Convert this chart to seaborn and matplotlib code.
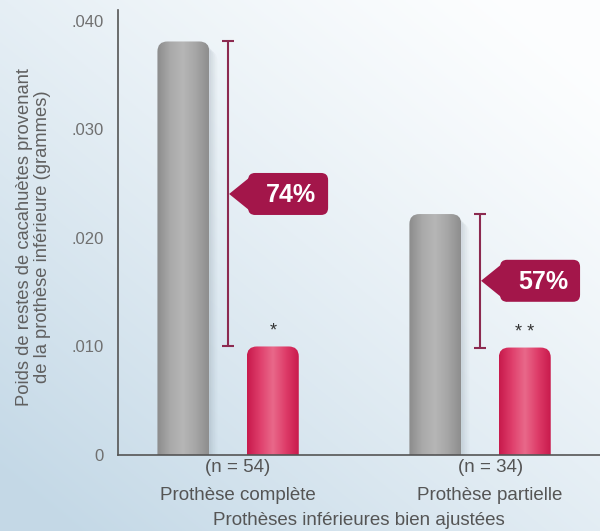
import numpy as np
import pandas as pd
import matplotlib
matplotlib.use("Agg")
import matplotlib.pyplot as plt
import seaborn as sns
from matplotlib.patches import FancyBboxPatch, Polygon
from matplotlib.transforms import ScaledTranslation, IdentityTransform
from matplotlib.colors import LinearSegmentedColormap

# ---- data ----
categories = ["Prothèse complète", "Prothèse partielle"]
sample_sizes = ["(n = 54)", "(n = 34)"]
series_names = ["Avant", "Après"]
before_values = [0.0381, 0.0222]
after_values = [0.0100, 0.0099]
reduction_labels = ["74%", "57%"]
significance = ["*", "* *"]
yticks = [0, 0.010, 0.020, 0.030, 0.040]
ytick_labels = ["0", ".010", ".020", ".030", ".040"]
y_title = "Poids de restes de cacahuètes provenant\nde la prothèse inférieure (grammes)"
x_title = "Prothèses inférieures bien ajustées"

df = pd.DataFrame({
    "cat": categories * 2,
    "serie": [series_names[0]] * 2 + [series_names[1]] * 2,
    "val": before_values + after_values,
})

sns.set_theme(style="white")
plt.rcParams["font.family"] = ["Liberation Sans", "DejaVu Sans"]

W, H = 600, 531
fig = plt.figure(figsize=(W / 100, H / 100), dpi=100)

# background gradient
bg = fig.add_axes([0, 0, 1, 1], zorder=-10)
yy, xx = np.mgrid[0:1:300j, 0:1:300j]
t = np.clip(0.55 * (1 - xx) + 0.6 * yy - 0.08, 0, 1) ** 1.2
c_light = np.array([0.99, 0.995, 0.998])
c_dark = np.array([0.77, 0.85, 0.905])
img = c_light[None, None, :] * (1 - t[..., None]) + c_dark[None, None, :] * t[..., None]
bg.imshow(img, extent=[0, 1, 0, 1], aspect="auto", origin="upper")
bg.set_axis_off()

ax = fig.add_axes([118 / W, 76 / H, 482 / W, 445 / H])
ax.patch.set_alpha(0)

grey = "#a3a3a3"
pink = "#d8285a"
sns.barplot(data=df, x="cat", y="val", hue="serie", palette=[grey, pink],
            width=0.71, gap=0.42, ax=ax, legend=False, saturation=1)

ax.set_xlim(-0.437, 1.476)
ax.set_ylim(0, 0.041)

# pixel scales
p0 = ax.transData.transform((0, 0))
px_x = ax.transData.transform((1, 0))[0] - p0[0]
px_y = ax.transData.transform((0, 1))[1] - p0[1]

grey_cmap = LinearSegmentedColormap.from_list("g", ["#8c8c8c", "#a9a9a9", "#b6b6b6", "#a6a6a6", "#8e8e8e"])
pink_cmap = LinearSegmentedColormap.from_list("p", ["#c81a4c", "#df3f6c", "#e9698a", "#de3c69", "#c91b4d"])

bars = [p for p in ax.patches]
r_px = 10
for i, p in enumerate(bars):
    x, y0 = p.get_x(), p.get_y()
    w, h = p.get_width(), p.get_height()
    if h <= 0:
        continue
    p.set_visible(False)
    is_grey = p.get_facecolor()[0] < 0.7
    extra = 20 / px_y
    box = FancyBboxPatch((x, -extra), w, h + extra,
                         boxstyle=f"round,pad=0,rounding_size={r_px / px_x}",
                         mutation_aspect=px_x / px_y,
                         fc="none", ec="none", zorder=2)
    ax.add_patch(box)
    if is_grey:
        for k, al in enumerate([0.07, 0.06, 0.05, 0.04]):
            sh = FancyBboxPatch((x + (2 + 2 * k) / px_x, -extra), w, h + extra - (3 + 2 * k) / px_y,
                                boxstyle=f"round,pad=0,rounding_size={r_px / px_x}",
                                mutation_aspect=px_x / px_y,
                                fc="#6f7e8a", ec="none", alpha=al, zorder=1.5)
            ax.add_patch(sh)
    grad = np.linspace(0, 1, 64)[None, :]
    im = ax.imshow(grad, extent=[x, x + w, 0, h], aspect="auto",
                   cmap=grey_cmap if is_grey else pink_cmap, zorder=2, interpolation="bicubic")
    im.set_clip_path(box)

ax.set_xlim(-0.437, 1.476)
ax.set_ylim(0, 0.041)

pink_bars = [p for p in bars if p.get_height() > 0 and p.get_facecolor()[0] > 0.7]
pink_bars.sort(key=lambda p: p.get_x())

line_col = "#8c2a50"
tag_col = "#a3164a"
for i in range(len(categories)):
    b, a = before_values[i], after_values[i]
    mid = (a + b) / 2
    ax.errorbar(i, mid, yerr=(b - a) / 2, color=line_col, lw=1.5,
                capsize=4, capthick=1.5, zorder=3)
    tr = IdentityTransform() + ScaledTranslation(i, mid, ax.transData)
    body = FancyBboxPatch((20, -21), 80, 42, boxstyle="round,pad=0,rounding_size=7",
                          fc=tag_col, ec="none", transform=tr, zorder=4)
    tri = Polygon([(1, 0), (27, 21), (27, -21)], closed=True, fc=tag_col, ec="none",
                  transform=tr, zorder=4)
    ax.add_patch(body)
    ax.add_patch(tri)
    ax.annotate(reduction_labels[i], (i, mid), xytext=(63, -1), textcoords="offset pixels",
                ha="center", va="center", color="white", fontsize=18, fontweight="bold",
                zorder=5)
    pb = pink_bars[i]
    ax.annotate(significance[i], (pb.get_x() + pb.get_width() / 2, after_values[i]),
                xytext=(0, 7), textcoords="offset pixels", ha="center", va="bottom",
                color="#333333", fontsize=13, zorder=5)

# axes styling
for s in ["top", "right"]:
    ax.spines[s].set_visible(False)
for s in ["left", "bottom"]:
    ax.spines[s].set_color("#555555")
    ax.spines[s].set_linewidth(1.2)

ax.set_yticks(yticks)
ax.set_yticklabels(ytick_labels, color="#707070", fontsize=12)
ax.tick_params(axis="y", length=0, pad=10)

ax.set_xticks(range(len(categories)))
ax.set_xticklabels([f"{n}\n{c}" for n, c in zip(sample_sizes, categories)],
                   color="#555555", fontsize=13.5, linespacing=1.8)
ax.tick_params(axis="x", length=0, pad=3)
for lab in ax.get_xticklabels():
    lab.set_transform(lab.get_transform() + ScaledTranslation(10 / 100, 0, fig.dpi_scale_trans))
ax.set_xticks([0.525], minor=True)
ax.tick_params(axis="x", which="minor", length=22, width=1.3, color="#444444", direction="out")

ax.set_xlabel(x_title, color="#555555", fontsize=13.5, labelpad=6)
ax.set_ylabel(y_title, color="#606060", fontsize=13.2, linespacing=1.05, labelpad=15)
ax.yaxis.label.set_y(0.49)

fig.savefig("out.png", dpi=100)
